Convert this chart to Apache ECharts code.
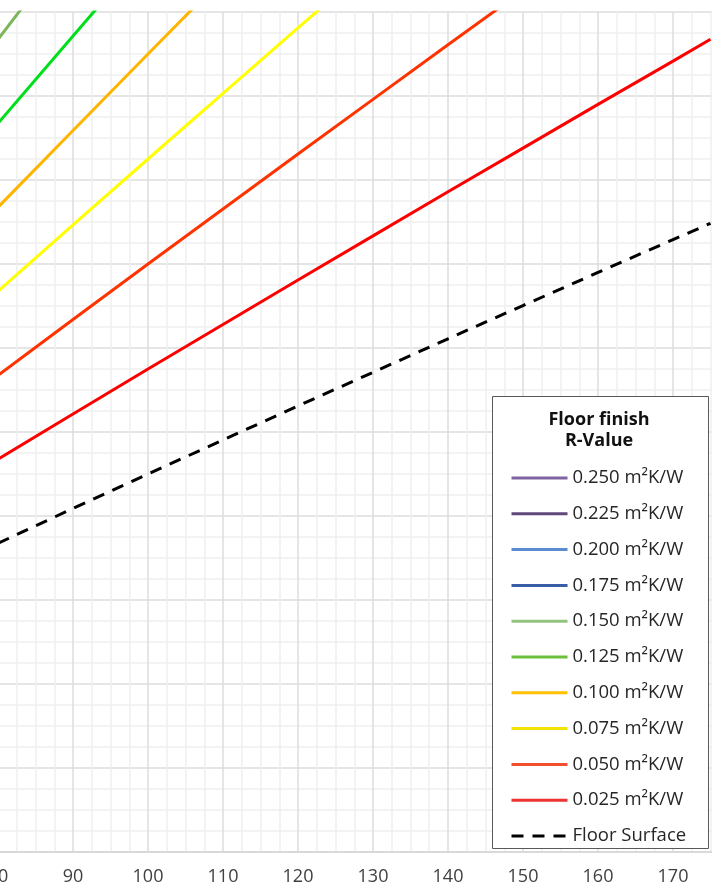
<!DOCTYPE html>
<html>
<head>
<meta charset="utf-8">
<script src="https://cdn.jsdelivr.net/npm/echarts@6/dist/echarts.min.js"></script>
<style>
  html, body { margin: 0; padding: 0; background: #fff; }
  #chart { width: 712px; height: 886px; }
</style>
</head>
<body>
<div id="chart"></div>
<script>
// heat output on the x axis, floor / screed temperature on the y axis
const heatOutput = [80, 90, 100, 110, 120, 130, 140, 150, 160, 170, 175];

const r250 = [47.35, 50.68, 54.00, 57.31, 60.62, 63.92, 67.22, 70.51, 73.80, 77.08, 78.72];
const r225 = [45.35, 48.43, 51.50, 54.56, 57.62, 60.67, 63.72, 66.76, 69.80, 72.83, 74.35];
const r200 = [43.35, 46.18, 49.00, 51.81, 54.62, 57.42, 60.22, 63.01, 65.80, 68.58, 69.97];
const r175 = [41.35, 43.93, 46.50, 49.06, 51.62, 54.17, 56.72, 59.26, 61.80, 64.33, 65.60];
const r150 = [39.35, 41.68, 44.00, 46.31, 48.62, 50.92, 53.22, 55.51, 57.80, 60.08, 61.22];
const r125 = [37.35, 39.43, 41.50, 43.56, 45.62, 47.67, 49.72, 51.76, 53.80, 55.83, 56.85];
const r100 = [35.35, 37.18, 39.00, 40.81, 42.62, 44.42, 46.22, 48.01, 49.80, 51.58, 52.47];
const r075 = [33.35, 34.93, 36.50, 38.06, 39.62, 41.17, 42.72, 44.26, 45.80, 47.33, 48.10];
const r050 = [31.35, 32.68, 34.00, 35.31, 36.62, 37.92, 39.22, 40.51, 41.80, 43.08, 43.72];
const r025 = [29.35, 30.43, 31.50, 32.56, 33.62, 34.67, 35.72, 36.76, 37.80, 38.83, 39.35];
const floorSurface = [27.35, 28.18, 29.00, 29.81, 30.62, 31.42, 32.22, 33.01, 33.80, 34.58, 34.97];

const seriesNames = [
    '0.250 m²K/W', '0.225 m²K/W', '0.200 m²K/W', '0.175 m²K/W', '0.150 m²K/W',
    '0.125 m²K/W', '0.100 m²K/W', '0.075 m²K/W', '0.050 m²K/W', '0.025 m²K/W',
    'Floor Surface'
];
const seriesValues = [r250, r225, r200, r175, r150, r125, r100, r075, r050, r025, floorSurface];

// colour of the line in the plot / colour of the swatch in the legend
const lineColors = ['#8064a2', '#60497a', '#5b8bd0', '#3a5da8', '#7cb65a',
    '#00e01a', '#ffb400', '#ffff00', '#ff3300', '#ff0000', '#000000'];
const legendColors = ['#8064a2', '#60497a', '#5b8bd0', '#3a5da8', '#93c47d',
    '#6bbf3a', '#ffc000', '#f2e400', '#f04e2d', '#ee3333', '#000000'];

const FONT = '"Open Sans", "Noto Sans", sans-serif';

function draw() {
    const chart = echarts.init(document.getElementById('chart'))
    chart.setOption(getOptions())
}

function getOptions() {
    const series = seriesNames.map(function (name, i) {
        const dashed = name === 'Floor Surface';
        return {
            name: name,
            type: 'line',
            symbol: 'none',
            showSymbol: false,
            smooth: false,
            animation: false,
            lineStyle: {
                color: lineColors[i],
                width: 3,
                type: dashed ? [12, 9] : 'solid'
            },
            itemStyle: { color: lineColors[i] },
            data: heatOutput.map(function (x, j) { return [x, seriesValues[i][j]]; })
        };
    });

    return {
        animation: false,
        grid: {
            left: -2,
            right: -36,
            top: 12,
            bottom: 34,
            containLabel: false,
            outerBoundsMode: 'none'
        },
        xAxis: {
            type: 'value',
            min: 80,
            max: 180,
            interval: 10,
            axisLine: { show: true, lineStyle: { color: '#d9d9d9', width: 2 } },
            axisTick: { show: false },
            axisLabel: {
                fontSize: 18,
                fontFamily: FONT,
                color: '#404040',
                margin: 16
            },
            splitLine: { show: true, lineStyle: { color: '#dcdcdc', width: 1.5 } },
            minorTick: { show: false, splitNumber: 4 },
            minorSplitLine: { show: true, lineStyle: { color: '#f0f0f0', width: 1.5 } }
        },
        yAxis: {
            type: 'value',
            min: 20,
            max: 40,
            interval: 2,
            axisLine: { show: false },
            axisTick: { show: false },
            axisLabel: { show: false },
            splitLine: { show: true, lineStyle: { color: '#dcdcdc', width: 1.5 } },
            minorTick: { show: false, splitNumber: 4 },
            minorSplitLine: { show: true, lineStyle: { color: '#f0f0f0', width: 1.5 } }
        },
        legend: {
            orient: 'vertical',
            left: 510,
            top: 468,
            padding: 0,
            itemWidth: 56,
            itemHeight: 20,
            itemGap: 15.8,
            selectedMode: false,
            itemStyle: { opacity: 0, borderWidth: 0 },
            textStyle: { fontSize: 18.5, fontFamily: FONT, color: '#262626', lineHeight: 20, height: 20 },
            data: seriesNames.map(function (name, i) {
                return { name: name, lineStyle: { color: legendColors[i], width: 3 } };
            })
        },
        graphic: [
            {
                type: 'rect',
                z: 3,
                shape: { x: 492.5, y: 396.5, width: 216, height: 452 },
                style: { fill: '#ffffff', stroke: '#595959', lineWidth: 1 }
            },
            {
                type: 'text',
                z: 5,
                x: 599,
                y: 409,
                style: {
                    text: 'Floor finish\nR-Value',
                    font: 'bold 18px ' + FONT,
                    fill: '#111111',
                    textAlign: 'center',
                    lineHeight: 21
                }
            }
        ],
        series: series
    };
}

draw()
</script>
</body>
</html>
